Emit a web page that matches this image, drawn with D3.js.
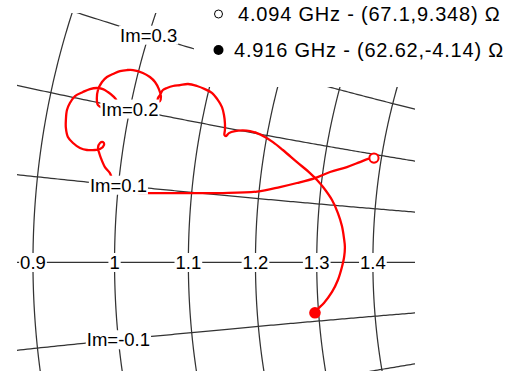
<!DOCTYPE html>
<html>
<head>
<meta charset="utf-8">
<script src="https://cdn.jsdelivr.net/npm/d3@7"></script>
<style>
  html, body { margin: 0; padding: 0; background: #fff; }
  svg { display: block; font-family: "Liberation Sans", Arial, Helvetica, sans-serif; }
</style>
</head>
<body>
<svg id="chart" width="514" height="377"></svg>
<script>
// Reference impedance used to normalise the marker impedances (ohms)
const refOhms = 48.4;

// Smith grid: constant-resistance circles and constant-reactance arcs (normalised)
const resistanceCircles = [0.9, 1, 1.1, 1.2, 1.3, 1.4];
const reactanceArcs = [0.3, 0.2, 0.1, 0, -0.1, -0.2];
const resistanceLabels = [0.9, 1, 1.1, 1.2, 1.3, 1.4];
const reactanceLabels = [0.3, 0.2, 0.1, -0.1];

// Markers: frequency (GHz) and impedance R + jX (ohms)
const markerFreqGHz = [4.094, 4.916];
const markerR = [67.1, 62.62];
const markerX = [9.348, -4.14];

// Measured reflection coefficient sweep, 4.094 GHz -> 4.916 GHz
const s11Re = [
  0.1674, 0.1635, 0.1583, 0.1499, 0.1390, 0.1293, 0.1177, 0.1067, 0.0919, 0.0699,
  0.0422, 0.0209, 0.0086, 0.0015, -0.0017, -0.0030, -0.0062, -0.0088, -0.0101, -0.0107,
  -0.0094, -0.0075, -0.0068, -0.0094, -0.0126, -0.0178, -0.0223, -0.0268, -0.0301, -0.0314,
  -0.0314, -0.0307, -0.0288, -0.0255, -0.0204, -0.0159, -0.0114, -0.0075, -0.0043, -0.0010,
  0.0015, 0.0009, -0.0030, -0.0075, -0.0107, -0.0114, -0.0107, -0.0081, -0.0049, -0.0010,
  0.0035, 0.0080, 0.0119, 0.0183, 0.0228, 0.0261, 0.0286, 0.0299, 0.0293, 0.0280,
  0.0280, 0.0293, 0.0312, 0.0338, 0.0377, 0.0422, 0.0474, 0.0532, 0.0583, 0.0628,
  0.0667, 0.0693, 0.0706, 0.0712, 0.0712, 0.0709, 0.0719, 0.0738, 0.0777, 0.0828,
  0.0874, 0.0919, 0.0970, 0.1022, 0.1086, 0.1177, 0.1261, 0.1306, 0.1345, 0.1403,
  0.1441, 0.1467, 0.1480, 0.1486, 0.1480, 0.1467, 0.1441, 0.1403, 0.1351, 0.1312,
  0.1293
];
const s11Im = [
  0.0674, 0.0668, 0.0648, 0.0616, 0.0584, 0.0545, 0.0513, 0.0487, 0.0458, 0.0448,
  0.0448, 0.0448, 0.0455, 0.0494, 0.0545, 0.0577, 0.0616, 0.0674, 0.0713, 0.0739,
  0.0771, 0.0777, 0.0758, 0.0732, 0.0726, 0.0726, 0.0739, 0.0771, 0.0810, 0.0868,
  0.0919, 0.0984, 0.1029, 0.1074, 0.1100, 0.1119, 0.1126, 0.1119, 0.1100, 0.1074,
  0.1042, 0.1010, 0.0990, 0.0997, 0.1016, 0.1048, 0.1113, 0.1165, 0.1197, 0.1216,
  0.1235, 0.1242, 0.1242, 0.1223, 0.1197, 0.1165, 0.1119, 0.1074, 0.1042, 0.1042,
  0.1061, 0.1081, 0.1113, 0.1126, 0.1139, 0.1145, 0.1152, 0.1139, 0.1119, 0.1094,
  0.1048, 0.1003, 0.0952, 0.0900, 0.0855, 0.0823, 0.0816, 0.0835, 0.0848, 0.0852,
  0.0848, 0.0835, 0.0810, 0.0777, 0.0726, 0.0648, 0.0577, 0.0532, 0.0487, 0.0403,
  0.0319, 0.0235, 0.0158, 0.0100, 0.0029, -0.0029, -0.0113, -0.0190, -0.0261, -0.0300,
  -0.0325
];

const W = 514, H = 377;
const svg = d3.select("#chart");

// Visible window of the reflection-coefficient plane
const x = d3.scaleLinear().domain([-0.0739, 0.2577]).range([0, W]);
const y = d3.scaleLinear().domain([0.1694, -0.0739]).range([0, H]);

// z = r + jx  ->  gamma = (z - 1) / (z + 1)
function toGamma(r, xi) {
  const d = (r + 1) * (r + 1) + xi * xi;
  return [(r * r - 1 + xi * xi) / d, (2 * xi) / d];
}

const line = d3.line().x(d => x(d[0])).y(d => y(d[1]));

svg.append("defs").append("clipPath").attr("id", "plotClip")
  .append("rect").attr("x", 17).attr("y", 13).attr("width", 398).attr("height", 358);

const grid = svg.append("g").attr("clip-path", "url(#plotClip)");

// Grid
const gridColor = "#333";
resistanceCircles.forEach(r => {
  const pts = d3.range(-0.6, 0.6001, 0.004).map(xi => toGamma(r, xi));
  grid.append("path").attr("d", line(pts))
    .attr("fill", "none").attr("stroke", gridColor).attr("stroke-width", 1.25);
});
reactanceArcs.forEach(xi => {
  const pts = d3.range(0.5, 2.5001, 0.004).map(r => toGamma(r, xi));
  grid.append("path").attr("d", line(pts))
    .attr("fill", "none").attr("stroke", gridColor).attr("stroke-width", 1.25);
});

// Legend panel background (hides the grid behind the legend)
svg.append("rect").attr("x", 194).attr("y", 0).attr("width", W - 194).attr("height", 87)
  .attr("fill", "#fff");

// Sweep trace
const traceLayer = svg.append("g").attr("clip-path", "url(#plotClip)");
const trace = s11Re.map((v, i) => [v, s11Im[i]]);
traceLayer.append("path")
  .attr("d", d3.line().x(d => x(d[0])).y(d => y(d[1])).curve(d3.curveCatmullRom.alpha(0.5))(trace))
  .attr("fill", "none").attr("stroke", "#ff0000").attr("stroke-width", 2.3)
  .attr("stroke-linejoin", "round").attr("stroke-linecap", "round");

// Grid labels with white backing
function gridLabel(txt, g) {
  const t = svg.append("text")
    .attr("x", x(g[0])).attr("y", y(g[1]))
    .attr("text-anchor", "middle").attr("dominant-baseline", "central")
    .attr("font-size", 18.5).attr("fill", "#000").text(txt);
  const b = t.node().getBBox();
  svg.insert("rect", () => t.node())
    .attr("x", b.x - 1).attr("y", b.y + 1).attr("width", b.width + 2).attr("height", b.height - 2)
    .attr("fill", "#fff");
}
reactanceLabels.forEach(xi => gridLabel("Im=" + xi, toGamma(1, xi)));
resistanceLabels.forEach(r => gridLabel(String(r), toGamma(r, 0)));

// Markers from the stated impedances
const markerGamma = markerR.map((R, i) => toGamma(R / refOhms, markerX[i] / refOhms));
svg.append("circle").attr("cx", x(markerGamma[0][0])).attr("cy", y(markerGamma[0][1]))
  .attr("r", 4.6).attr("fill", "#fff").attr("stroke", "#ff0000").attr("stroke-width", 2);
svg.append("circle").attr("cx", x(markerGamma[1][0])).attr("cy", y(markerGamma[1][1]))
  .attr("r", 5.8).attr("fill", "#ff0000");

// Legend
const legend = svg.append("g");
const legendRows = [
  { cy: 14, base: 21, tx: 238, open: true },
  { cy: 50, base: 57, tx: 234, open: false }
];
legendRows.forEach((row, i) => {
  legend.append("circle").attr("cx", 218.5).attr("cy", row.cy)
    .attr("r", row.open ? 4 : 5)
    .attr("fill", row.open ? "#fff" : "#000")
    .attr("stroke", "#000").attr("stroke-width", row.open ? 1 : 0);
  legend.append("text").attr("x", row.tx).attr("y", row.base)
    .attr("font-size", 20).attr("letter-spacing", 0.8).attr("fill", "#000")
    .text(`${markerFreqGHz[i]} GHz - (${markerR[i]},${markerX[i]}) \u03A9`);
});
</script>
</body>
</html>
